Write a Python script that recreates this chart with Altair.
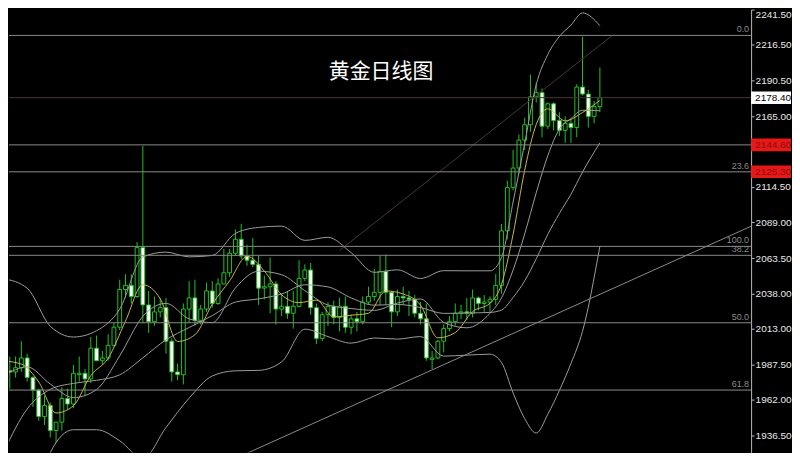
import altair as alt
import pandas as pd

# ---------------- data ----------------
dates = ["2023-10-31",
 "2023-11-01","2023-11-02","2023-11-03","2023-11-06","2023-11-07","2023-11-08","2023-11-09","2023-11-10",
 "2023-11-13","2023-11-14","2023-11-15","2023-11-16","2023-11-17","2023-11-20","2023-11-21","2023-11-22",
 "2023-11-23","2023-11-24","2023-11-27","2023-11-28","2023-11-29","2023-11-30",
 "2023-12-01","2023-12-04","2023-12-05","2023-12-06","2023-12-07","2023-12-08","2023-12-11","2023-12-12",
 "2023-12-13","2023-12-14","2023-12-15","2023-12-18","2023-12-19","2023-12-20","2023-12-21","2023-12-22",
 "2023-12-26","2023-12-27","2023-12-28","2023-12-29",
 "2024-01-02","2024-01-03","2024-01-04","2024-01-05","2024-01-08","2024-01-09","2024-01-10","2024-01-11",
 "2024-01-12","2024-01-15","2024-01-16","2024-01-17","2024-01-18","2024-01-19","2024-01-22","2024-01-23",
 "2024-01-24","2024-01-25","2024-01-26","2024-01-29","2024-01-30","2024-01-31",
 "2024-02-01","2024-02-02","2024-02-05","2024-02-06","2024-02-07","2024-02-08","2024-02-09","2024-02-12",
 "2024-02-13","2024-02-14","2024-02-15","2024-02-16","2024-02-19","2024-02-20","2024-02-21","2024-02-22",
 "2024-02-23","2024-02-26","2024-02-27","2024-02-28","2024-02-29",
 "2024-03-01","2024-03-04","2024-03-05","2024-03-06","2024-03-07","2024-03-08","2024-03-11","2024-03-12",
 "2024-03-13","2024-03-14","2024-03-15","2024-03-18","2024-03-19","2024-03-20","2024-03-21","2024-03-22",
 "2024-03-25","2024-03-26"]

opens = [1996,1983,1982,1985,1992,1978,1969,1950,1958,1940,
 1946,1963,1959,1980,1981,1977,1999,1990,1992,2001,
 2014,2041,2044,2036,2071,2030,2018,2025,2028,2004,
 1982,1980,2027,2035,2019,2027,2040,2031,2045,2053,
 2067,2077,2065,2062,2059,2042,2043,2045,2027,2029,
 2024,2029,2049,2055,2028,2006,2023,2029,2021,2029,
 2014,2020,2018,2032,2036,2039,2054,2039,2025,2036,
 2035,2034,2024,2020,1991,1992,2004,2013,2018,2024,
 2025,2024,2035,2031,2032,2034,2044,2083,2114,2128,
 2148,2159,2179,2182,2158,2174,2162,2155,2160,2157,
 2186,2181,2165,2172]
highs = [2008,1993,1993,2004,1995,1979,1970,1965,1960,1946,
 1971,1970,1987,1993,1984,2007,2008,1997,2009,2017,
 2048,2052,2052,2075,2144,2040,2036,2035,2035,2006,
 1988,2031,2047,2048,2030,2046,2047,2049,2070,2070,
 2084,2088,2073,2078,2065,2051,2064,2047,2038,2040,
 2040,2062,2059,2060,2031,2025,2032,2033,2035,2036,
 2023,2025,2036,2043,2056,2065,2066,2040,2041,2043,
 2040,2037,2032,2031,1997,2005,2016,2022,2031,2030,
 2035,2041,2036,2037,2036,2052,2088,2119,2141,2152,
 2164,2195,2189,2185,2175,2175,2168,2165,2163,2188,
 2222,2184,2176,2200]
lows = [1977,1970,1978,1982,1975,1957,1947,1944,1935,1931,
 1940,1955,1956,1975,1965,1974,1990,1987,1990,2000,
 2012,2035,2031,2035,2017,2010,2015,2021,1995,1975,
 1976,1973,2017,2015,2016,2025,2028,2030,2045,2050,
 2065,2063,2058,2057,2030,2034,2024,2016,2022,2020,
 2013,2028,2047,2023,2002,2004,2015,2016,2011,2010,
 2009,2011,2016,2030,2033,2030,2030,2014,2022,2030,
 2022,2021,2016,1990,1984,1991,1996,2011,2015,2020,
 2019,2021,2026,2025,2025,2030,2038,2077,2112,2124,
 2141,2154,2175,2150,2156,2155,2151,2146,2146,2150,
 2180,2157,2160,2168]
closes = [1983,1982,1985,1992,1978,1969,1950,1958,1940,1946,
 1963,1959,1981,1981,1977,1999,1990,1992,2001,2014,
 2041,2044,2036,2071,2030,2018,2025,2028,2004,1982,
 1980,2027,2035,2019,2027,2040,2031,2045,2053,2067,
 2077,2065,2062,2059,2042,2043,2045,2027,2029,2024,
 2029,2049,2055,2028,2006,2023,2029,2021,2029,2014,
 2020,2018,2032,2036,2039,2054,2039,2025,2036,2035,
 2034,2024,2020,1992,1992,2004,2013,2018,2024,2025,
 2024,2035,2031,2032,2034,2044,2083,2114,2128,2148,
 2159,2179,2182,2158,2174,2162,2155,2160,2157,2186,
 2181,2165,2172,2178.4]

# Bollinger band (upper / middle / lower) and MA10, sampled at bar positions
band_idx = [0,4,8,12,16,20,24,28,32,36,40,44,48,52,56,60,64,68,72,76,80,84,
            86,88,90,92,94,96,98,100,103]
bb_upper = [2048.7,2042.0,2014.7,2007.0,2011.5,2027.0,2064.3,2067.8,2064.4,2065.4,2081.2,
            2085.5,2086.4,2076.2,2078.4,2067.4,2053.3,2055.1,2048.9,2054.5,2054.4,2054.4,
            2063.9,2103.7,2145.8,2187.8,2209.3,2222.2,2230.4,2239.1,2230.0]
bb_mid = [1925.3,1955.4,1969.5,1973.8,1976.0,1979.9,1992.1,2005.0,2013.8,2022.3,2032.0,
          2034.3,2037.8,2044.4,2042.9,2035.0,2029.8,2030.3,2028.1,2023.9,2024.2,2024.6,
          2026.3,2035.3,2047.2,2063.0,2080.5,2095.5,2109.2,2125.1,2146.0]
bb_lower = [1801.9,1868.8,1924.3,1940.6,1940.6,1932.7,1919.9,1942.2,1963.2,1979.1,1982.8,
            1983.1,1989.2,2012.6,2007.3,2002.6,2006.3,2005.5,2007.3,1993.3,1994.0,1994.7,
            1988.7,1966.9,1948.6,1938.2,1951.7,1968.7,1988.0,2011.1,2072.0]
ma10 = [1979.3,1985.6,1973.3,1963.6,1969.4,1993.5,2021.8,2031.1,2020.0,2017.3,2042.1,
        2054.1,2051.6,2040.2,2029.9,2027.4,2026.1,2031.3,2034.2,2017.5,2013.6,2024.0,
        2035.0,2055.0,2080.8,2110.3,2136.9,2155.9,2163.4,2169.4,2169.0]

ma5_idx = [0,3,6,9,12,15,18,21,24,27,30,33,36,39,42,45,48,51,54,57,60,63,66,69,72,75,
           78,81,84,86,88,90,92,94,97,100,103]
ma5 = [1989.8,1987.6,1974.8,1952.6,1957.8,1979.4,1991.8,2018.4,2044.4,2034.4,2003.8,
       2008.6,2030.4,2047.2,2064.8,2054.2,2037.2,2031.6,2033.4,2021.4,2022.6,2024.0,
       2040.0,2037.8,2029.8,2006.4,2010.2,2025.2,2031.2,2044.8,2080.6,2126.4,2159.2,
       2170.4,2161.8,2167.8,2176.4]

# trend lines (two end points each)
trend_idx = [40, 129.5]
trend_price = [1920, 2087]
diag_idx = [58, 105]
diag_price = [2069, 2222.5]

# horizontal levels
hline_prices = [2223.0, 2178.4, 2144.6, 2125.3, 2071.9, 2065.5, 2017.2, 1969.0]
hline_kind = ["fib", "bid", "fib", "fib", "fib", "fib", "fib", "fib"]
fib_prices = [2223.0, 2125.3, 2071.9, 2065.5, 2017.2, 1969.0]
fib_labels = ["0.0", "23.6", "100.0", "38.2", "50.0", "61.8"]
fib_kind = ["zero", "fib", "fib", "fib", "fib", "fib"]

# the 2140.00 grid label sits hidden under the red marker in the reference
tick_values = [2241.5, 2216.5, 2190.5, 2165.0, 2114.5, 2089.0,
               2063.5, 2038.0, 2013.0, 1987.5, 1962.0, 1936.5]
box_prices = [2178.4, 2144.6, 2125.3]
box_labels = ["2178.40", "2144.60", "2125.30"]
box_fill = ["#ffffff", "#e81818", "#e81818"]
box_text = ["#000000", "#8a0c0c", "#8a0c0c"]

title_text = "黄金日线图"

# ---------------- chart ----------------
GREEN = "#22c022"
W, H = 744, 444
xs = alt.Scale(domain=[0.862, 129.14], nice=False, zero=False)
ys = alt.Scale(domain=[1924.33, 2241.5], nice=False, zero=False)

candles = pd.DataFrame({"date": dates, "o": opens, "h": highs, "l": lows, "c": closes})
candles["i"] = range(len(candles))
candles["dir"] = ["up" if c >= o else "down" for o, c in zip(opens, closes)]

yaxis = alt.Axis(orient="right", values=tick_values, format=".2f", title=None,
                 labelColor="#e8e8e8", labelFont="Liberation Sans", labelFontSize=10,
                 tickColor="#b8b8b8", tickSize=3, labelPadding=1, domainColor="#b8b8b8",
                 grid=False, labelFlush=True, labelOverlap=False)


def Y(field):
    return alt.Y(field, scale=ys, axis=yaxis)


def X(field):
    return alt.X(field, scale=xs, axis=None)


wicks = alt.Chart(candles).mark_rule(color=GREEN, strokeWidth=1, clip=True).encode(
    x=X("i:Q"), y=Y("l:Q"), y2="h:Q",
)

bodies = alt.Chart(candles).transform_calculate(
    xa="datum.i - 0.33", xb="datum.i + 0.33"
).mark_rect(stroke=GREEN, strokeWidth=1, clip=True).encode(
    x=X("xa:Q"), x2="xb:Q", y=Y("o:Q"), y2="c:Q",
    fill=alt.Color("dir:N", scale=alt.Scale(domain=["up", "down"], range=["#000000", "#ffffff"]),
                   legend=None),
)

bands_rows = []
for name, vals in [("upper", bb_upper), ("mid", bb_mid), ("lower", bb_lower), ("ma10", ma10)]:
    for i, v in zip(band_idx, vals):
        bands_rows.append({"i": i, "v": v, "s": name})
bands = pd.DataFrame(bands_rows)
band_lines = alt.Chart(bands).mark_line(color="#9c9c9c", strokeWidth=1, interpolate="monotone",
                                        clip=True).encode(
    x=X("i:Q"), y=Y("v:Q"), detail="s:N",
)

ma5_df = pd.DataFrame({"i": ma5_idx, "v": ma5})
ma5_line = alt.Chart(ma5_df).mark_line(color="#c8b450", strokeWidth=1, interpolate="monotone",
                                       clip=True).encode(
    x=X("i:Q"), y=Y("v:Q"),
)

tl = pd.DataFrame({"i": trend_idx + diag_idx, "v": trend_price + diag_price,
                   "s": ["trend"] * 2 + ["diag"] * 2})
trend_lines = alt.Chart(tl).mark_line(strokeWidth=1, clip=True).encode(
    x=X("i:Q"), y=Y("v:Q"), detail="s:N",
    color=alt.Color("s:N", scale=alt.Scale(domain=["trend", "diag"], range=["#8a8a8a", "#4a3434"]),
                    legend=None),
)

hl = pd.DataFrame({"p": hline_prices, "k": hline_kind})
hlines = alt.Chart(hl).mark_rule(strokeWidth=1).encode(
    y=Y("p:Q"),
    color=alt.Color("k:N", scale=alt.Scale(domain=["fib", "bid"], range=["#d8d8d8", "#9a9a9a"]),
                    legend=None),
)

fl = pd.DataFrame({"p": fib_prices, "t": fib_labels, "k": fib_kind})
fib_text = alt.Chart(fl).mark_text(align="right", baseline="bottom", dy=-1, fontSize=9,
                                   font="Liberation Sans").encode(
    x=alt.value(W - 2), y=Y("p:Q"), text="t:N",
    color=alt.Color("k:N", scale=alt.Scale(domain=["zero", "fib"], range=["#c8c8c8", "#c8c860"]),
                    legend=None),
)

bx = pd.DataFrame({"p": box_prices, "t": box_labels, "f": box_fill, "tc": box_text})
boxes = alt.Chart(bx).transform_calculate(
    top="datum.p + 4.5", bot="datum.p - 4.5"
).mark_rect().encode(
    x=alt.value(W), x2=alt.value(W + 40),
    y=Y("top:Q"), y2="bot:Q",
    fill=alt.Color("f:N", scale=None),
)
box_txt = alt.Chart(bx).mark_text(align="left", baseline="middle", fontSize=10,
                                  font="Liberation Sans").encode(
    x=alt.value(W + 4), y=Y("p:Q"), text="t:N",
    color=alt.Color("tc:N", scale=None),
)

title = alt.Chart(pd.DataFrame({"t": [title_text]})).mark_text(
    fontSize=21, font="Noto Sans CJK SC", color="#ffffff", align="center", baseline="middle"
).encode(x=alt.value(373), y=alt.value(63), text="t:N")

chart = alt.layer(
    wicks, bodies, band_lines, ma5_line, trend_lines, hlines, fib_text, boxes, box_txt, title
).properties(
    width=W, height=H, padding=0, background="#000000"
).configure_view(stroke=None, fill="#000000")

chart.save("out.html", embed_options={"renderer": "svg", "actions": False})
